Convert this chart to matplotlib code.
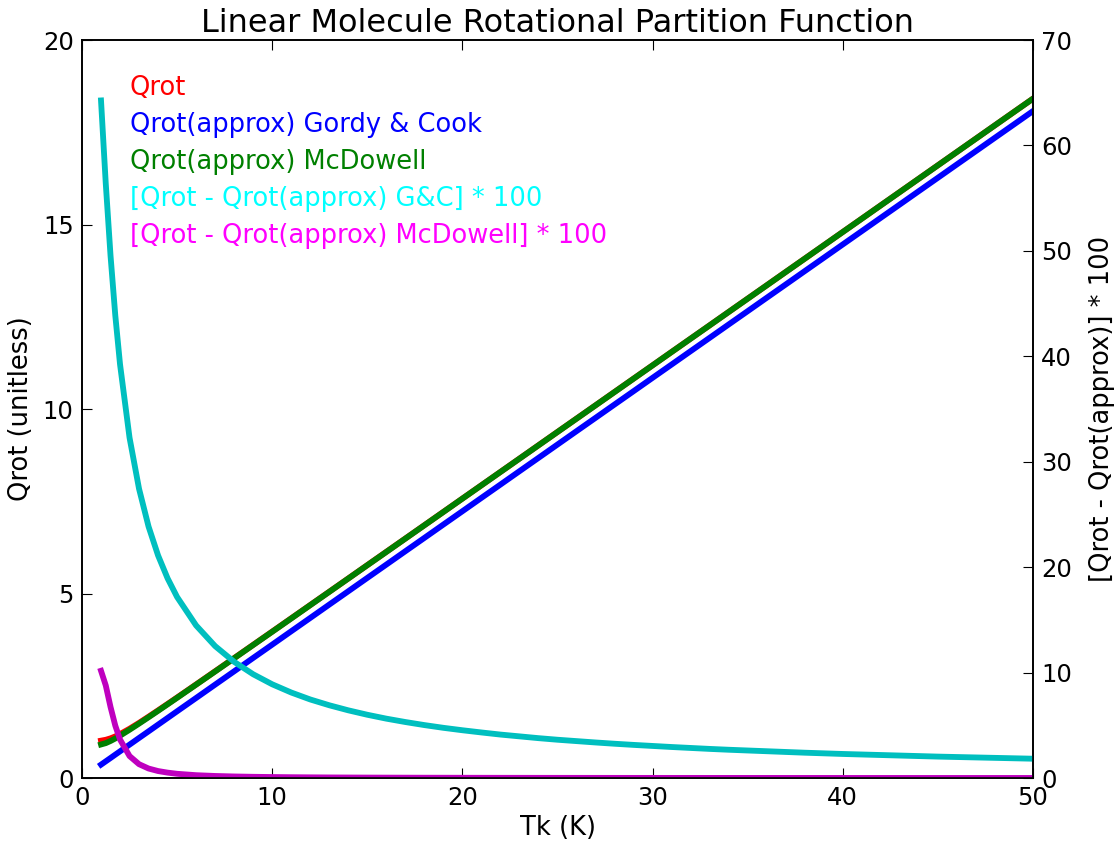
import matplotlib
matplotlib.use("Agg")
import matplotlib.pyplot as plt

# Rotational partition function of a linear molecule vs kinetic temperature
tk = [1, 1.25, 1.5, 1.75, 2, 2.5, 3, 3.5, 4, 4.5, 5,
      6, 7, 8, 9, 10, 11, 12, 13, 14, 15, 16, 17, 18, 19, 20,
      21, 22, 23, 24, 25, 26, 27, 28, 29, 30, 31, 32, 33, 34, 35,
      36, 37, 38, 39, 40, 41, 42, 43, 44, 45, 46, 47, 48, 49, 50]

qrot = [1.012, 1.036, 1.075, 1.127, 1.190, 1.335, 1.494, 1.662, 1.833, 2.007, 2.182,
        2.536, 2.893, 3.250, 3.609, 3.968, 4.328, 4.688, 5.048, 5.408, 5.769,
        6.130, 6.490, 6.851, 7.212, 7.573, 7.934, 8.295, 8.656, 9.018, 9.379,
        9.740, 10.101, 10.463, 10.824, 11.185, 11.547, 11.908, 12.269, 12.631, 12.992,
        13.353, 13.715, 14.076, 14.437, 14.799, 15.160, 15.522, 15.883, 16.244, 16.606,
        16.967, 17.329, 17.690, 18.052, 18.413]

qrot_gc = [0.362, 0.452, 0.542, 0.633, 0.723, 0.904, 1.085, 1.265, 1.446, 1.627, 1.808,
           2.169, 2.531, 2.892, 3.254, 3.615, 3.977, 4.338, 4.700, 5.061, 5.423,
           5.784, 6.146, 6.507, 6.869, 7.230, 7.592, 7.953, 8.315, 8.676, 9.038,
           9.400, 9.761, 10.123, 10.484, 10.846, 11.207, 11.569, 11.930, 12.292, 12.653,
           13.015, 13.376, 13.738, 14.099, 14.461, 14.822, 15.184, 15.545, 15.907, 16.268,
           16.630, 16.991, 17.353, 17.714, 18.076]

qrot_mcd = [0.909, 0.945, 1.003, 1.071, 1.147, 1.307, 1.475, 1.647, 1.821, 1.997, 2.174,
            2.530, 2.887, 3.246, 3.605, 3.964, 4.324, 4.685, 5.045, 5.406, 5.767,
            6.127, 6.488, 6.849, 7.210, 7.572, 7.933, 8.294, 8.655, 9.016, 9.378,
            9.739, 10.100, 10.461, 10.823, 11.184, 11.546, 11.907, 12.268, 12.630, 12.991,
            13.352, 13.714, 14.075, 14.437, 14.798, 15.159, 15.521, 15.882, 16.244, 16.605,
            16.967, 17.328, 17.690, 18.051, 18.412]

diff_gc = [64.27, 56.38, 49.56, 43.89, 39.24, 32.28, 27.43, 23.85, 21.11, 18.94, 17.17,
           14.47, 12.51, 11.02, 9.84, 8.89, 8.11, 7.45, 6.90, 6.42, 6.00,
           5.63, 5.31, 5.02, 4.76, 4.53, 4.32, 4.12, 3.95, 3.78, 3.63,
           3.50, 3.37, 3.25, 3.14, 3.04, 2.94, 2.85, 2.76, 2.68, 2.61,
           2.54, 2.47, 2.40, 2.34, 2.28, 2.23, 2.18, 2.13, 2.08, 2.03,
           1.99, 1.95, 1.91, 1.87, 1.83]

diff_mcd = [10.17, 8.78, 6.74, 4.97, 3.65, 2.08, 1.31, 0.90, 0.66, 0.51, 0.40,
            0.267, 0.193, 0.146, 0.114, 0.092, 0.075, 0.063, 0.053, 0.046, 0.040,
            0.035, 0.031, 0.027, 0.025, 0.022, 0.020, 0.018, 0.017, 0.015, 0.014,
            0.013, 0.012, 0.011, 0.010, 0.010, 0.009, 0.009, 0.008, 0.008, 0.007,
            0.007, 0.006, 0.006, 0.006, 0.005, 0.005, 0.005, 0.005, 0.004, 0.004,
            0.004, 0.004, 0.004, 0.004, 0.003]

labels = ["Qrot", "Qrot(approx) Gordy & Cook", "Qrot(approx) McDowell",
          "[Qrot - Qrot(approx) G&C] * 100", "[Qrot - Qrot(approx) McDowell] * 100"]
label_colors = ["red", "blue", "green", "cyan", "magenta"]

tick_fs = 17.5
text_fs = 18.5
plt.rcParams["font.family"] = "DejaVu Sans"

fig = plt.figure(figsize=(11.14, 8.43), dpi=100)
ax = fig.add_axes([0.0736, 0.0771, 0.8537, 0.8754])

lw = 4.2
ax.plot(tk, qrot, color="r", lw=lw)
ax.plot(tk, qrot_gc, color="b", lw=lw)
ax.plot(tk, qrot_mcd, color="g", lw=lw)
ax.set_xlim(0, 50)
ax.set_ylim(0, 20)
ax.set_xticks([0, 10, 20, 30, 40, 50])
ax.set_yticks([0, 5, 10, 15, 20])
ax.set_xlabel("Tk (K)", fontsize=text_fs, labelpad=3)
ax.set_ylabel("Qrot (unitless)", fontsize=text_fs, labelpad=6)
ax.set_title("Linear Molecule Rotational Partition Function", fontsize=23, pad=6)

# colored text key in the upper left
for i, (lab, col) in enumerate(zip(labels, label_colors)):
    ax.text(2.5, 18.5 - i, lab, color=col, fontsize=text_fs)

ax2 = ax.twinx()
ax2.plot(tk, diff_gc, color="c", lw=lw)
ax2.plot(tk, diff_mcd, color="m", lw=lw)
ax2.set_ylim(0, 70)
ax2.set_yticks([0, 10, 20, 30, 40, 50, 60, 70])
ax2.set_ylabel("[Qrot - Qrot(approx)] * 100", fontsize=text_fs, labelpad=12)

ax.tick_params(axis="x", which="both", direction="in", top=True, length=7,
               labelsize=tick_fs, pad=6)
ax.tick_params(axis="y", direction="in", right=False, length=7, labelsize=tick_fs, pad=6)
ax2.tick_params(axis="y", direction="in", length=7, labelsize=tick_fs, pad=6)
for a in (ax, ax2):
    for sp in a.spines.values():
        sp.set_linewidth(1.2)

fig.savefig("out.png", dpi=100)
